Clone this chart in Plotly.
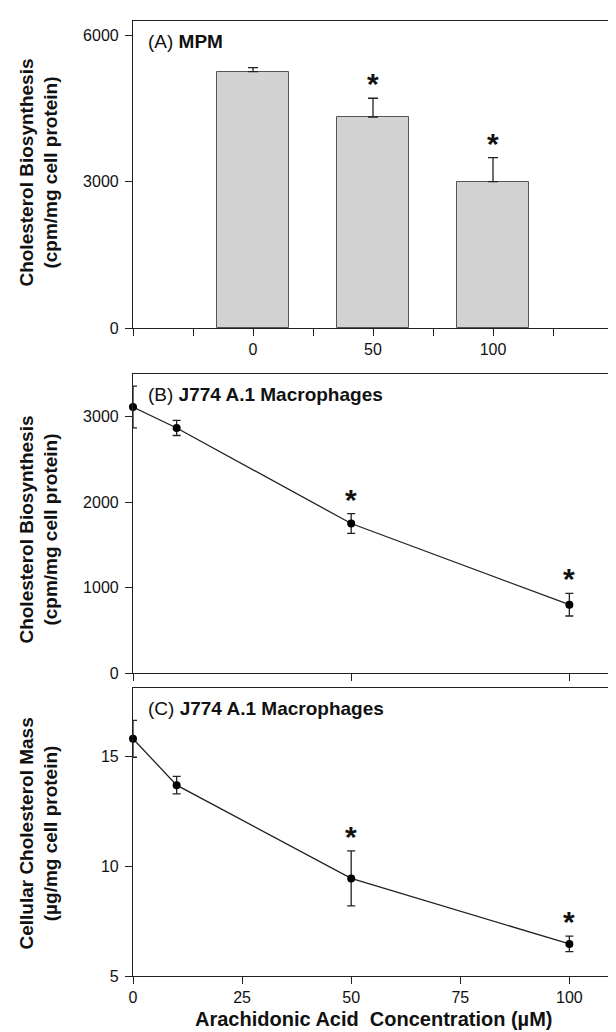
import plotly.graph_objects as go

# ---------------- data ----------------
conc_a = ["0", "50", "100"]
mpm_biosynth = [5260, 4330, 3005]
mpm_err = [85, 385, 490]
sig_a = [False, True, True]

conc_b = [0, 10, 50, 100]
j774_biosynth = [3114, 2868, 1750, 800]
j774_biosynth_err = [245, 88, 115, 133]
sig_b = [False, False, True, True]

conc_c = [0, 10, 50, 100]
j774_mass = [15.79, 13.68, 9.44, 6.46]
j774_mass_err = [0.84, 0.40, 1.25, 0.35]
sig_c = [False, False, True, True]

yticks_a = [0, 3000, 6000]
yticks_b = [0, 1000, 2000, 3000]
yticks_c = [5, 10, 15]
xticks_b = [0, 50, 100]
xticks_c = [0, 25, 50, 75, 100]

# ---------------- style ----------------
FONT = "Arial, Liberation Sans, Helvetica, sans-serif"
AX = "#222222"
TXT = "#111111"
W, H = 616, 1032
ML, MR, MT, MB = 125, 3, 13, 64
plot_h = H - MT - MB

def yd(px):
    return (H - MB - px) / plot_h

dom_a = [yd(320), 1.0]
dom_b = [yd(665), yd(366)]
dom_c = [0.0, yd(680)]

pos_a = list(range(len(conc_a)))

fig = go.Figure()

fig.add_trace(go.Bar(
    x=pos_a, y=mpm_biosynth, width=0.6,
    marker=dict(color="#d3d3d3", line=dict(color="#555555", width=1)),
    error_y=dict(type="data", array=mpm_err, arrayminus=[0] * len(mpm_err),
                 symmetric=False, color=AX, thickness=1.3, width=5),
    xaxis="x", yaxis="y", showlegend=False,
))

fig.add_trace(go.Scatter(
    x=conc_b, y=j774_biosynth, mode="lines+markers",
    line=dict(color=AX, width=1.3),
    marker=dict(color="black", size=8),
    error_y=dict(type="data", array=j774_biosynth_err, color=AX, thickness=1.3, width=4),
    xaxis="x2", yaxis="y2", showlegend=False, cliponaxis=False,
))

fig.add_trace(go.Scatter(
    x=conc_c, y=j774_mass, mode="lines+markers",
    line=dict(color=AX, width=1.3),
    marker=dict(color="black", size=8),
    error_y=dict(type="data", array=j774_mass_err, color=AX, thickness=1.3, width=4),
    xaxis="x3", yaxis="y3", showlegend=False, cliponaxis=False,
))

tickfont = dict(family=FONT, size=16, color=TXT)
common = dict(showline=True, linecolor=AX, linewidth=1.2,
              ticks="outside", ticklen=7, tickwidth=1.2, tickcolor=AX,
              showgrid=False, zeroline=False, tickfont=tickfont)
xcommon = dict(mirror=True, **common)
ycommon = dict(mirror="ticks", ticklabelstandoff=3, **common)

# x tick labels for panel A (ticks at every half category)
tv_a = [p / 2 for p in range(-2, 2 * len(conc_a) + 1)]
tt_a = [conc_a[int(v)] if v == int(v) and 0 <= int(v) < len(conc_a) else "" for v in tv_a]

fig.update_layout(
    width=W, height=H,
    margin=dict(l=ML, r=MR, t=MT, b=MB),
    paper_bgcolor="white", plot_bgcolor="white",
    font=dict(family=FONT, color=TXT),
    bargap=0,
    xaxis=dict(domain=[0, 1], anchor="y", range=[-1, 3],
               tickmode="array", tickvals=tv_a, ticktext=tt_a, **xcommon),
    yaxis=dict(domain=dom_a, anchor="x", range=[0, 6300],
               tickmode="array", tickvals=yticks_a, **ycommon),
    xaxis2=dict(domain=[0, 1], anchor="y2", range=[0, 110],
                tickmode="array", tickvals=xticks_b, showticklabels=False, **xcommon),
    yaxis2=dict(domain=dom_b, anchor="x2", range=[0, 3500],
                tickmode="array", tickvals=yticks_b, **ycommon),
    xaxis3=dict(domain=[0, 1], anchor="y3", range=[0, 110],
                tickmode="array", tickvals=xticks_c, **xcommon),
    yaxis3=dict(domain=dom_c, anchor="x3", range=[5, 18.1],
                tickmode="array", tickvals=yticks_c, **ycommon),
)

ann = []
# significance asterisks
def stars(xs, ys, es, sig, xr, yr):
    for x, y, e, s in zip(xs, ys, es, sig):
        if s:
            ann.append(dict(x=x, y=y + e, xref=xr, yref=yr, text="<b>*</b>",
                            showarrow=False, yanchor="bottom", yshift=-4,
                            font=dict(family=FONT, size=30, color=TXT)))

stars(pos_a, mpm_biosynth, mpm_err, sig_a, "x", "y")
stars(conc_b, j774_biosynth, j774_biosynth_err, sig_b, "x2", "y2")
stars(conc_c, j774_mass, j774_mass_err, sig_c, "x3", "y3")

# panel labels
lab_x = (138 - ML) / (W - ML - MR)
for txt, ypx in [("(A) <b>MPM</b>", 33),
                 ("(B) <b>J774 A.1 Macrophages</b>", 387),
                 ("(C) <b>J774 A.1 Macrophages</b>", 700)]:
    ann.append(dict(x=lab_x, y=yd(ypx), xref="paper", yref="paper", text=txt,
                    showarrow=False, xanchor="left", yanchor="middle",
                    font=dict(family=FONT, size=19, color=TXT)))

# y-axis titles
ytx = (29 - ML) / (W - ML - MR)
for txt, ypx in [("<b>Cholesterol Biosynthesis<br>(cpm/mg cell protein)</b>", 165),
                 ("<b>Cholesterol Biosynthesis<br>(cpm/mg cell protein)</b>", 522),
                 ("<b>Cellular Cholesterol Mass<br>(µg/mg cell protein)</b>", 826)]:
    ann.append(dict(x=ytx, y=yd(ypx), xref="paper", yref="paper", text=txt,
                    showarrow=False, textangle=-90, xanchor="center", yanchor="middle",
                    font=dict(family=FONT, size=19, color=TXT)))

# x-axis title
ann.append(dict(x=0.5, y=yd(1011), xref="paper", yref="paper",
                text="<b>Arachidonic Acid  Concentration (µM)</b>",
                showarrow=False, xanchor="center", yanchor="middle",
                font=dict(family=FONT, size=20, color=TXT)))

fig.update_layout(annotations=ann)
fig.write_html("out.html")
